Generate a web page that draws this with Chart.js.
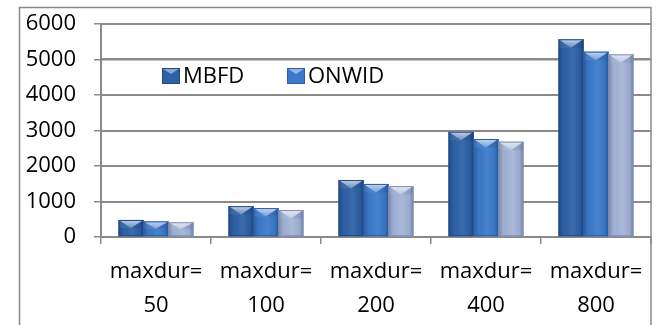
<!DOCTYPE html>
<html>
<head>
<meta charset="utf-8">
<script src="https://cdn.jsdelivr.net/npm/chart.js@4/dist/chart.umd.min.js"></script>
<style>
  html, body { margin: 0; padding: 0; background: #fff; }
  canvas { display: block; }
</style>
</head>
<body>
<canvas id="c" width="662" height="325"></canvas>
<script>
const categories = [['maxdur=', '50'], ['maxdur=', '100'], ['maxdur=', '200'], ['maxdur=', '400'], ['maxdur=', '800']];
const seriesNames = ['MBFD', 'ONWID', 'Series3'];
const mbfd  = [480, 870, 1605, 2965, 5570];
const onwid = [440, 815, 1495, 2760, 5220];
const third = [415, 760, 1435, 2685, 5145];
const yMin = 0, yMax = 6000, yStep = 1000;
const legendNames = ['MBFD', 'ONWID'];

const baseColors = ['#2D62A8', '#3C7BCB', '#A3B5D8'];
const edgeColors = ['#1E4A85', '#2A5EA6', '#7F91B8'];
const FONT = '"Open Sans", sans-serif';
const GRID = '#8a8a8a';

function drawBevel(ctx, el, di) {
  const p = el.getProps(['x', 'y', 'base', 'width'], true);
  const left = p.x - p.width / 2, right = p.x + p.width / 2;
  const top = p.y, bottom = p.base, h = bottom - top;
  ctx.save();
  const g = ctx.createLinearGradient(left, 0, right, 0);
  g.addColorStop(0, 'rgba(0,0,30,0.25)');
  g.addColorStop(0.2, 'rgba(0,0,30,0.04)');
  g.addColorStop(0.55, 'rgba(255,255,255,0.06)');
  g.addColorStop(0.85, 'rgba(0,0,30,0.06)');
  g.addColorStop(1, 'rgba(0,0,30,0.3)');
  ctx.fillStyle = g;
  ctx.fillRect(left, top, p.width, h);
  const bh = Math.min(p.width * 0.34, h / 2);
  ctx.beginPath();
  ctx.moveTo(left, top); ctx.lineTo(right, top); ctx.lineTo(p.x, top + bh); ctx.closePath();
  const tg = ctx.createLinearGradient(0, top, 0, top + bh);
  tg.addColorStop(0, 'rgba(255,255,255,0.7)');
  tg.addColorStop(1, 'rgba(255,255,255,0.25)');
  ctx.fillStyle = tg; ctx.fill();
  ctx.beginPath();
  ctx.moveTo(left, top); ctx.lineTo(p.x, top + bh); ctx.lineTo(left, top + bh); ctx.closePath();
  ctx.fillStyle = 'rgba(255,255,255,0.08)'; ctx.fill();
  ctx.beginPath();
  ctx.moveTo(right, top); ctx.lineTo(p.x, top + bh); ctx.lineTo(right, top + bh); ctx.closePath();
  ctx.fillStyle = 'rgba(0,0,40,0.08)'; ctx.fill();
  ctx.strokeStyle = edgeColors[di];
  ctx.lineWidth = 1;
  ctx.strokeRect(left + 0.5, top + 0.5, p.width - 1, h - 1);
  ctx.restore();
}

// gridlines behind bars: draw grid from the y scale, then re-draw the library's bar elements on top, then shading
const barsPlugin = {
  id: 'barsWithGrid',
  afterDatasetsDraw(chart) {
    const ctx = chart.ctx, ys = chart.scales.y, a = chart.chartArea;
    ctx.save();
    ctx.fillStyle = GRID;
    for (let v = yMin; v <= yMax; v += yStep) {
      const py = Math.round(ys.getPixelForValue(v));
      ctx.fillRect(a.left, py - 1, a.right - a.left, 2);
    }
    ctx.restore();
    chart.data.datasets.forEach((ds, di) => {
      const meta = chart.getDatasetMeta(di);
      meta.data.forEach(el => { el.draw(ctx, a); drawBevel(ctx, el, di); });
    });
  }
};

const framePlugin = {
  id: 'frame',
  afterDraw(chart) {
    const ctx = chart.ctx;
    ctx.save();
    ctx.strokeStyle = GRID;
    ctx.lineWidth = 1.5;
    ctx.strokeRect(19.5, 7.5, chart.chartArea.right - 19.5, 340);
    ctx.font = '22px ' + FONT;
    ctx.textBaseline = 'middle';
    const lx = [162, 287];
    legendNames.forEach((name, i) => {
      const x = lx[i], y = 68, w = 18, hh = 16;
      ctx.fillStyle = baseColors[i];
      ctx.fillRect(x, y, w, hh);
      ctx.beginPath();
      ctx.moveTo(x, y); ctx.lineTo(x + w, y); ctx.lineTo(x + w / 2, y + 6); ctx.closePath();
      ctx.fillStyle = 'rgba(255,255,255,0.45)'; ctx.fill();
      ctx.strokeStyle = edgeColors[i]; ctx.lineWidth = 1;
      ctx.strokeRect(x + 0.5, y + 0.5, w - 1, hh - 1);
      ctx.fillStyle = '#000';
      ctx.fillText(name, x + w + 3, y + hh / 2 + 1);
    });
    ctx.restore();
  }
};

new Chart(document.getElementById('c'), {
  type: 'bar',
  data: {
    labels: categories,
    datasets: [
      { label: seriesNames[0], data: mbfd, backgroundColor: baseColors[0] },
      { label: seriesNames[1], data: onwid, backgroundColor: baseColors[1] },
      { label: seriesNames[2], data: third, backgroundColor: baseColors[2] }
    ]
  },
  options: {
    responsive: false,
    animation: false,
    devicePixelRatio: 1,
    datasets: { bar: { barPercentage: 1, categoryPercentage: 0.68, borderWidth: 0 } },
    layout: { padding: { left: 24, top: 24, right: 11, bottom: 0 } },
    plugins: { legend: { display: false }, tooltip: { enabled: false } },
    scales: {
      x: {
        grid: { offset: true, drawOnChartArea: false, tickLength: 7, color: GRID, lineWidth: 1.5 },
        border: { display: true, color: GRID, width: 2 },
        ticks: { color: '#000', font: { family: FONT, size: 22, lineHeight: 1.55 }, padding: 11, maxRotation: 0, autoSkip: false },
        afterFit(s) { s.height = 88; s.paddingLeft = 0; s.paddingRight = 0; }
      },
      y: {
        min: yMin, max: yMax,
        grid: { color: GRID, lineWidth: 1.5, tickLength: 7 },
        border: { display: true, color: GRID, width: 2 },
        ticks: { stepSize: yStep, color: '#000', font: { family: FONT, size: 22 }, padding: 18, callback: v => String(v) },
        afterFit(s) { s.width = 77; s.paddingTop = 0; s.paddingBottom = 0; }
      }
    }
  },
  plugins: [barsPlugin, framePlugin]
});
</script>
</body>
</html>
